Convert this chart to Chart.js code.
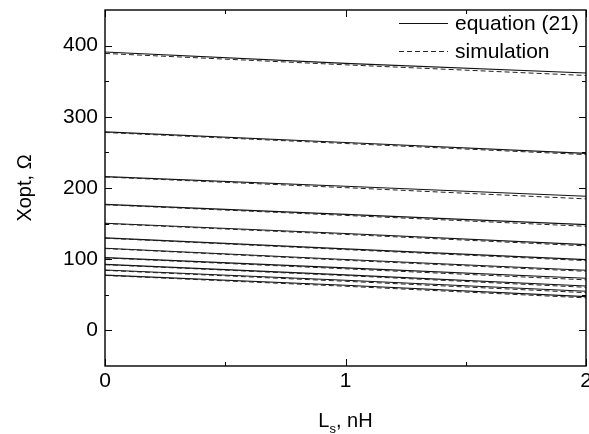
<!DOCTYPE html>
<html>
<head>
<meta charset="utf-8">
<script src="https://cdn.jsdelivr.net/npm/chart.js@4"></script>
<style>
  html, body { margin: 0; padding: 0; background: #fff; overflow: hidden; }
  canvas { display: block; }
</style>
</head>
<body>
<canvas id="xoptChart" width="589" height="434"></canvas>
<script>
// Ls (nH) at which values were read
const inductance = [0, 1, 2];

// Xopt (Ohm), one row per curve, top to bottom
const equationValues = [
  [391, 375, 361.5],
  [278.8, 264, 248.7],
  [216, 202.5, 188.4],
  [177, 163, 148.6],
  [150.4, 136, 120.5],
  [130, 114.5, 99.4],
  [115.3, 99.6, 84.4],
  [102.2, 87.8, 73.3],
  [92.8, 78, 62.4],
  [84.8, 70.5, 54.9],
  [77.7, 63.5, 47.5]
];
const simulationValues = [
  [389, 373, 358],
  [278, 262.5, 246.9],
  [215.5, 200.5, 184.7],
  [176.5, 161.5, 146.2],
  [150, 134.8, 118.7],
  [129.5, 113.5, 98],
  [115, 98.5, 83],
  [101.8, 86.5, 71],
  [92.3, 77, 60.5],
  [84.3, 69, 53],
  [77.2, 62, 45.7]
];

const xMajorTicks = [0, 1, 2];
const xMinorTicks = [0.5, 1.5];
const yMajorTicks = [0, 100, 200, 300, 400];
const yMinorTicks = [50, 150, 250, 350];
const legendLabels = ['equation (21)', 'simulation'];

const FONT = '"Liberation Sans", Arial, Helvetica, sans-serif';

const toPoints = row => row.map((v, i) => ({ x: inductance[i], y: v }));

const datasets = [];
simulationValues.forEach(row => datasets.push({
  label: legendLabels[1], data: toPoints(row),
  borderColor: '#222', borderWidth: 1, borderDash: [5, 3],
  pointRadius: 0, fill: false
}));
equationValues.forEach(row => datasets.push({
  label: legendLabels[0], data: toPoints(row),
  borderColor: '#111', borderWidth: 1.1,
  pointRadius: 0, fill: false
}));

function makeTicks(major, minor) {
  return [...major, ...minor].sort((a, b) => a - b).map(v => ({ value: v }));
}

// inward ticks on all four sides + frame, legend, x title with subscript
const decorations = {
  id: 'decorations',
  afterDatasetsDraw(chart) {
    const { ctx, chartArea: a, scales: { x, y } } = chart;
    ctx.save();
    ctx.strokeStyle = '#000';
    ctx.lineWidth = 1.4;
    ctx.strokeRect(a.left, a.top, a.right - a.left, a.bottom - a.top);

    ctx.lineWidth = 1;
    ctx.beginPath();
    x.ticks.forEach(t => {
      const px = Math.round(x.getPixelForValue(t.value)) + 0.5;
      const len = xMajorTicks.includes(t.value) ? 7 : 4;
      ctx.moveTo(px, a.bottom); ctx.lineTo(px, a.bottom - len);
      ctx.moveTo(px, a.top); ctx.lineTo(px, a.top + len);
    });
    y.ticks.forEach(t => {
      const py = Math.round(y.getPixelForValue(t.value)) + 0.5;
      const len = yMajorTicks.includes(t.value) ? 7 : 4;
      ctx.moveTo(a.left, py); ctx.lineTo(a.left + len, py);
      ctx.moveTo(a.right, py); ctx.lineTo(a.right - len, py);
    });
    ctx.stroke();

    // legend
    const solid = chart.data.datasets[chart.data.datasets.length - 1];
    const dashed = chart.data.datasets[0];
    const rows = [
      { ds: solid, y: a.top + 13 },
      { ds: dashed, y: a.top + 41 }
    ];
    rows.forEach(r => {
      ctx.beginPath();
      ctx.strokeStyle = r.ds.borderColor;
      ctx.lineWidth = 1;
      ctx.setLineDash(r.ds.borderDash || []);
      ctx.moveTo(a.right - 187, r.y + 0.5);
      ctx.lineTo(a.right - 138, r.y + 0.5);
      ctx.stroke();
      ctx.setLineDash([]);
      ctx.fillStyle = '#000';
      ctx.font = '21px ' + FONT;
      ctx.textBaseline = 'middle';
      ctx.textAlign = 'left';
      ctx.fillText(r.ds.label, a.right - 131, r.y + 1);
    });

    // x title: L_s, nH
    ctx.fillStyle = '#000';
    ctx.textBaseline = 'alphabetic';
    ctx.font = '20px ' + FONT;
    const w1 = ctx.measureText('L').width;
    const w3 = ctx.measureText(', nH').width;
    ctx.font = '13px ' + FONT;
    const w2 = ctx.measureText('s').width;
    let sx = (a.left + a.right) / 2 - (w1 + w2 + w3) / 2;
    const base = 427;
    ctx.font = '20px ' + FONT;
    ctx.fillText('L', sx, base);
    ctx.font = '13px ' + FONT;
    ctx.fillText('s', sx + w1, base + 6);
    ctx.font = '20px ' + FONT;
    ctx.fillText(', nH', sx + w1 + w2, base);
    ctx.restore();
  }
};

new Chart(document.getElementById('xoptChart'), {
  type: 'line',
  data: { datasets },
  plugins: [decorations],
  options: {
    responsive: false,
    animation: false,
    devicePixelRatio: 1,
    layout: { padding: { top: 10, right: 3, left: 0, bottom: 0 } },
    plugins: { legend: { display: false }, tooltip: { enabled: false } },
    scales: {
      x: {
        type: 'linear', min: 0, max: 2,
        grid: { display: false, drawTicks: false },
        border: { display: false },
        afterBuildTicks: s => { s.ticks = makeTicks(xMajorTicks, xMinorTicks); },
        afterFit: s => { s.height = 68; s.paddingLeft = 0; s.paddingRight = 0; },
        ticks: {
          autoSkip: false, maxRotation: 0, padding: 3, color: '#000',
          font: { family: FONT, size: 21 },
          callback: v => xMajorTicks.includes(v) ? String(v) : ''
        }
      },
      y: {
        type: 'linear', min: -50, max: 450,
        grid: { display: false, drawTicks: false },
        border: { display: false },
        afterBuildTicks: s => { s.ticks = makeTicks(yMajorTicks, yMinorTicks); },
        afterFit: s => { s.width = 105; s.paddingTop = 0; s.paddingBottom = 0; },
        ticks: {
          autoSkip: false, padding: 7, color: '#000',
          font: { family: FONT, size: 21 },
          callback: v => yMajorTicks.includes(v) ? String(v) : ''
        },
        title: {
          display: true, text: 'Xopt, Ω', color: '#000',
          font: { family: FONT, size: 20 },
          padding: { top: 13, bottom: 0 }
        }
      }
    }
  }
});
</script>
</body>
</html>
